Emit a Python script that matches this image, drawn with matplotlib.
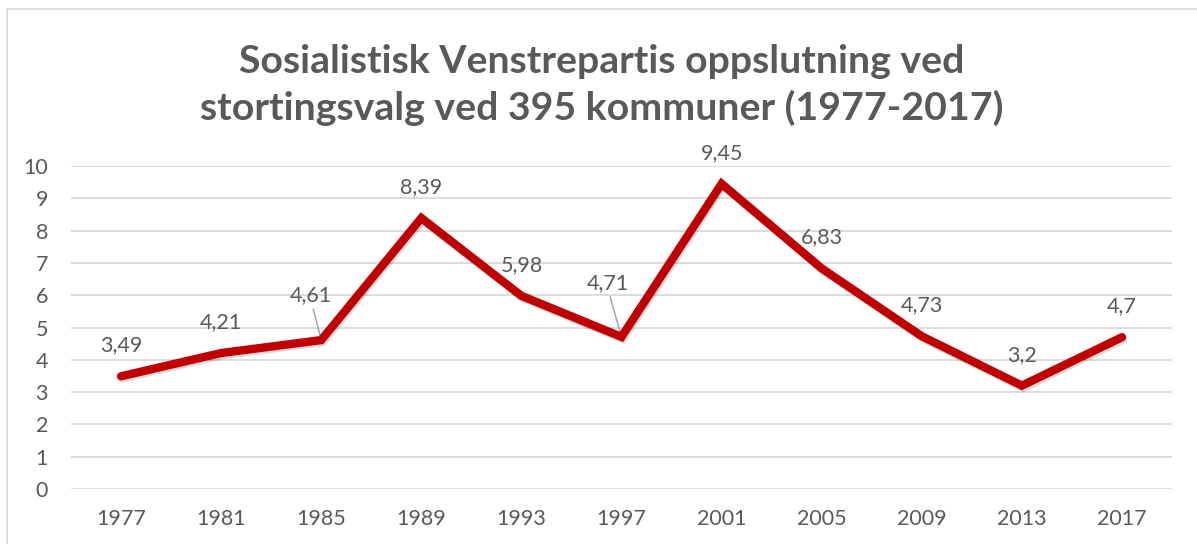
import matplotlib
matplotlib.use("Agg")
import matplotlib.pyplot as plt
import matplotlib.patheffects as pe
from matplotlib.patches import Rectangle

years = ["1977", "1981", "1985", "1989", "1993", "1997", "2001", "2005", "2009", "2013", "2017"]
values = [3.49, 4.21, 4.61, 8.39, 5.98, 4.71, 9.45, 6.83, 4.73, 3.2, 4.7]
labels = ["3,49", "4,21", "4,61", "8,39", "5,98", "4,71", "9,45", "6,83", "4,73", "3,2", "4,7"]
yticks = list(range(0, 11))
title = "Sosialistisk Venstrepartis oppslutning ved\nstortingsvalg ved 395 kommuner (1977-2017)"

W, H = 1197, 544
FONT = "Lato"
GRAY = "#595959"
FS = 15.5

fig = plt.figure(figsize=(W / 100, H / 100), dpi=100)
fig.patch.set_facecolor("white")

# chart border
fig.patches.append(Rectangle((7 / W, -0.1), 1.2, 1 - 9 / H + 0.1, transform=fig.transFigure,
                             fill=False, edgecolor="#D9D9D9", linewidth=1.2))

left, right, top, bottom = 71, 1172, 166, 489
ax = fig.add_axes([left / W, 1 - bottom / H, (right - left) / W, (bottom - top) / H])
x = list(range(len(years)))
ax.set_xlim(-0.5, len(years) - 0.5)
ax.set_ylim(0, 10)
ax.set_yticks(yticks)
ax.set_xticks(x)
ax.set_xticklabels(years)
ax.grid(axis="y", color="#D9D9D9", linewidth=1.3)
ax.set_axisbelow(True)
for s in ax.spines.values():
    s.set_visible(False)
ax.tick_params(length=0, labelsize=FS, labelcolor=GRAY, pad=0)
ax.tick_params(axis="y", pad=16.5)
ax.tick_params(axis="x", pad=14.5)
for t in ax.get_xticklabels() + ax.get_yticklabels():
    t.set_fontfamily(FONT)

ax.plot(x, values, color="#C00000", linewidth=6, solid_joinstyle="miter",
        solid_capstyle="round",
        path_effects=[pe.SimpleLineShadow(offset=(1, -1.5), shadow_color="black", alpha=0.15),
                      pe.Normal()], zorder=3)

# label offsets in pixels (dx, dy) from point
offsets = {2: (-10, 45), 5: (-14, 54)}
for i, (v, lab) in enumerate(zip(values, labels)):
    dx, dy = offsets.get(i, (0, 31))
    ax.annotate(lab, (i, v), xytext=(dx, dy), textcoords="offset pixels",
                ha="center", va="center", fontsize=FS, color=GRAY, fontfamily=FONT, zorder=4)
    if i in offsets:
        ax.annotate("", (i, v), xytext=(dx * 0.85 + 0.5, dy - 14), textcoords="offset pixels",
                    arrowprops=dict(arrowstyle="-", color="#A6A6A6", lw=1.1,
                                    shrinkA=0, shrinkB=3), zorder=2)

fig.text(602 / W, 1 - 85 / H, title, ha="center", va="center", fontsize=28.3,
         fontweight="bold", color=GRAY, fontfamily=FONT, linespacing=1.33)

fig.savefig("out.png", dpi=100)
